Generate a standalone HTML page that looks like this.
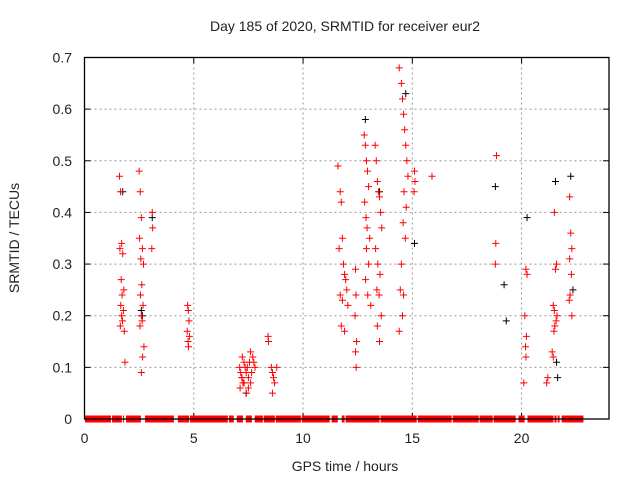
<!DOCTYPE html>
<html><head><meta charset="utf-8"><style>
body{margin:0;background:#fff}
svg{display:block;font-family:"Liberation Sans",sans-serif}
</style></head><body>
<svg id="chart" width="640" height="480" viewBox="0 0 640 480">
<rect width="640" height="480" fill="#fff"/>
<text x="345" y="31" font-size="14" text-anchor="middle" fill="#222">Day 185 of 2020, SRMTID for receiver eur2</text>
<text x="345" y="471" font-size="14" text-anchor="middle" fill="#222">GPS time / hours</text>
<text x="19" y="238" font-size="14" text-anchor="middle" fill="#222" transform="rotate(-90 19 238)">SRMTID / TECUs</text>
<g id="grid"></g>
<g id="marks"></g>
<rect x="84.5" y="57.5" width="524.5" height="361.5" fill="none" stroke="#000" stroke-width="1.3"/>
</svg>
<script>
const xTicks=[0,5,10,15,20];
const yTicks=[0,0.1,0.2,0.3,0.4,0.5,0.6,0.7];
const redHours=[1.6,1.65,1.7,1.62,1.75,1.68,1.8,1.72,1.66,1.78,1.7,1.74,1.64,1.82,1.85,
2.5,2.55,2.6,2.52,2.65,2.58,2.7,2.62,2.56,2.68,2.6,2.64,2.54,2.72,2.66,2.6,
3.1,3.12,3.08,4.72,4.75,4.78,4.7,4.8,4.74,4.76,
7.1,7.15,7.2,7.25,7.3,7.12,7.22,7.35,7.4,7.5,7.55,7.6,7.45,7.65,7.7,7.75,7.8,7.3,7.2,7.5,7.6,7.4,
8.4,8.42,8.55,8.6,8.65,8.7,8.8,8.6,
11.6,11.7,11.75,11.8,11.65,11.85,11.9,11.95,12.0,11.7,11.8,12.05,11.75,11.9,
12.4,12.42,12.38,12.45,12.4,12.43,
12.8,12.85,12.9,12.95,13.0,12.82,12.88,12.93,13.05,12.9,13.0,12.86,12.96,13.1,
13.3,13.35,13.4,13.45,13.5,13.55,13.6,13.32,13.42,13.52,13.38,13.48,13.58,13.4,13.5,
14.4,14.5,14.55,14.6,14.65,14.7,14.75,14.8,14.62,14.72,14.58,14.68,14.5,14.45,14.6,14.55,14.4,
15.1,15.12,15.08,15.9,18.85,18.82,18.8,20.2,20.25,20.15,20.22,20.18,20.2,20.1,21.2,21.15,
21.5,21.6,21.55,21.45,21.5,21.62,21.58,21.52,21.48,21.4,21.45,
22.2,22.25,22.3,22.2,22.28,22.22,22.18,22.3];
const redValues=[0.47,0.44,0.34,0.33,0.32,0.27,0.25,0.24,0.22,0.21,0.2,0.19,0.18,0.17,0.11,
0.48,0.44,0.39,0.35,0.33,0.31,0.3,0.26,0.24,0.22,0.2,0.19,0.18,0.14,0.12,0.09,
0.4,0.37,0.33,0.22,0.21,0.19,0.17,0.16,0.15,0.14,
0.1,0.09,0.08,0.07,0.11,0.06,0.12,0.1,0.09,0.08,0.11,0.13,0.1,0.09,0.12,0.11,0.1,0.07,0.08,0.06,0.07,0.05,
0.16,0.15,0.1,0.09,0.08,0.07,0.1,0.05,
0.49,0.44,0.42,0.35,0.33,0.3,0.28,0.27,0.25,0.24,0.23,0.22,0.18,0.17,
0.29,0.24,0.2,0.15,0.13,0.1,
0.55,0.53,0.5,0.48,0.45,0.42,0.39,0.37,0.35,0.33,0.3,0.27,0.24,0.22,
0.53,0.5,0.46,0.44,0.43,0.4,0.37,0.33,0.3,0.28,0.25,0.24,0.2,0.18,0.15,
0.68,0.65,0.62,0.59,0.56,0.53,0.5,0.47,0.44,0.41,0.38,0.35,0.3,0.25,0.24,0.2,0.17,
0.48,0.46,0.44,0.47,0.51,0.34,0.3,0.29,0.28,0.2,0.16,0.14,0.12,0.07,0.08,0.07,
0.4,0.3,0.29,0.22,0.21,0.2,0.19,0.18,0.17,0.13,0.12,
0.43,0.36,0.33,0.31,0.28,0.24,0.23,0.2];
const blackHours=[1.75,2.6,2.65,3.1,7.4,12.85,13.5,14.7,15.1,18.8,19.2,19.3,20.25,21.55,21.6,21.65,22.25,22.35];
const blackValues=[0.44,0.21,0.2,0.39,0.05,0.58,0.44,0.63,0.34,0.45,0.26,0.19,0.39,0.46,0.11,0.08,0.47,0.25];
const zeroStarts=[0.02,1.26,1.76,1.9,2.77,4.27,4.82,6.61,6.97,7.38,7.79,8.2,8.75,9.94,11.31,11.77,11.95,13.55,15.25,16.85,18.08,18.72,19.86,20.27,21.5,21.65,21.83];
const zeroEnds=[1.21,1.71,1.81,2.58,4.09,4.78,6.56,6.83,7.25,7.66,8.16,8.71,9.9,11.22,11.59,11.9,13.5,15.2,16.8,18.04,18.68,19.73,20.14,21.46,21.6,21.74,22.83];

const X0=84.5,X1=609,Y0=419,Y1=57.5,XMAX=24,YMAX=0.7;
const sx=v=>X0+v/XMAX*(X1-X0);
const sy=v=>Y0-v/YMAX*(Y0-Y1);
const NS='http://www.w3.org/2000/svg';
const grid=document.getElementById('grid'),marks=document.getElementById('marks');
function mk(tag,attrs,parent){const e=document.createElementNS(NS,tag);for(const k in attrs)e.setAttribute(k,attrs[k]);parent.appendChild(e);return e;}
xTicks.forEach(t=>{
  const x=sx(t);
  if(t>0){const g=mk('line',{x1:x,x2:x,y1:Y1,y2:Y0,stroke:'#999','stroke-dasharray':'2,3'},grid);
  
  }
  const tk=mk('line',{x1:x,x2:x,y1:Y0,y2:Y0-6,stroke:'#000'},grid);
  
  
  const tk2=mk('line',{x1:x,x2:x,y1:Y1,y2:Y1+6,stroke:'#000'},grid);
  
  
  const l=mk('text',{x:x,y:443,'font-size':14,'text-anchor':'middle',fill:'#222'},grid);
  l.textContent=t;
  
  
});
yTicks.forEach(t=>{
  const y=sy(t);
  if(t>0&&t<0.7){const g=mk('line',{x1:X0,x2:X1,y1:y,y2:y,stroke:'#999','stroke-dasharray':'2,3'},grid);
  
  }
  const tk=mk('line',{x1:X0,x2:X0+6,y1:y,y2:y,stroke:'#000'},grid);
  
  
  const tk2=mk('line',{x1:X1,x2:X1-6,y1:y,y2:y,stroke:'#000'},grid);
  
  
  const l=mk('text',{x:72,y:y+5,'font-size':14,'text-anchor':'end',fill:'#222'},grid);
  l.textContent=t===0?'0':t.toFixed(1);
  
  
});
zeroStarts.forEach((s,i)=>{
  const r=mk('rect',{x:sx(s),y:Y0-3.5,width:Math.max(1,sx(zeroEnds[i])-sx(s)),height:7,fill:'#f00'},marks);
  
  
});
function plus(h,v,c,name){
  const x=sx(h),y=sy(v);
  const p=mk('path',{d:`M${x-3.5} ${y}H${x+3.5}M${x} ${y-3.5}V${y+3.5}`,stroke:c,'stroke-width':1,fill:'none'},marks);
  
  
}
blackHours.forEach((h,i)=>plus(h,blackValues[i],'#000','black-point'));
redHours.forEach((h,i)=>plus(h,redValues[i],'#f00','red-point'));
</script>
</body></html>
